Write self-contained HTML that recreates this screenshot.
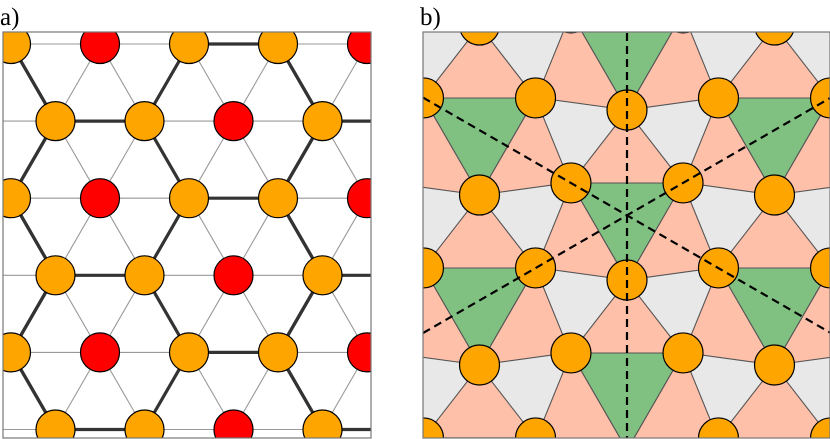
<!DOCTYPE html>
<html><head><meta charset="utf-8">
<style>
html,body{margin:0;padding:0;background:#fff;width:830px;height:439px;overflow:hidden}
svg{display:block}
</style></head>
<body>
<svg id="s" width="830" height="439" xmlns="http://www.w3.org/2000/svg">
<defs>
<clipPath id="ca"><rect x="3" y="32" width="368" height="406"/></clipPath>
<clipPath id="cb"><rect x="423" y="32" width="407" height="406"/></clipPath>
</defs>
<text x="0" y="25" font-family="Liberation Serif, serif" font-size="25">a)</text>
<text x="420" y="25" font-family="Liberation Serif, serif" font-size="25">b)</text>
<g id="ga" clip-path="url(#ca)"></g>
<rect x="3" y="32" width="368" height="406" fill="none" stroke="#777" stroke-width="1.2"/>
<g id="gb" clip-path="url(#cb)"></g>
<rect x="423" y="32" width="407" height="406" fill="none" stroke="#777" stroke-width="1.2"/>
</svg>
<script>
var NS="http://www.w3.org/2000/svg";
function el(p,t,a){var e=document.createElementNS(NS,t);for(var k in a)e.setAttribute(k,a[k]);p.appendChild(e);return e;}
var ga=document.getElementById('ga');
var dx=89, dy=77.1, x0=11, y0=44;
function P(r,c){return [x0+44.5*r+dx*c, y0+dy*r];}
var thin=el(ga,'g',{stroke:'#999','stroke-width':1.1});
for(var r=-2;r<8;r++)for(var c=-8;c<8;c++){
 var p=P(r,c),q1=P(r,c+1),q2=P(r+1,c),q3=P(r+1,c-1);
 [q1,q2,q3].forEach(function(q){el(thin,'line',{x1:p[0],y1:p[1],x2:q[0],y2:q[1]});});
}
var thick=el(ga,'g',{stroke:'#333','stroke-width':3.2});
function L(a,b,c,d){el(thick,'line',{x1:a,y1:b,x2:c,y2:d});}
for(var k=-1;k<4;k++){
 var ye=44+2*dy*k, yo=ye+dy, yn=ye+2*dy;
 for(var s=-1;s<=1;s++){
  var o=267*s;
  L(189+o,ye,278+o,ye);
  L(11+o,ye,55.5+o,yo);L(189+o,ye,144.5+o,yo);L(278+o,ye,322.5+o,yo);
  L(55.5+o,yo,144.5+o,yo);
  L(55.5+o,yo,11+o,yn);L(144.5+o,yo,189+o,yn);L(322.5+o,yo,278+o,yn);
 }
}
for(var r=-1;r<7;r++)for(var c=-6;c<8;c++){
 var p=P(r,c); if(p[0]<-30||p[0]>410)continue;
 var red=(((c+2*r)%3)+3)%3==1;
 el(ga,'circle',{cx:p[0],cy:p[1],r:19.5,fill:red?'#ff0000':'#ffa500',stroke:'#000','stroke-width':1.2});
}
var gb=document.getElementById('gb');
el(gb,'rect',{x:423,y:32,width:407,height:406,fill:'#e8e8e8'});
var cents=[];
for(var i=-3;i<=3;i++)for(var j=-4;j<=4;j++){
 var cx=627+147.5*i, cy=215.3+170*j+85*i;
 if(cx<300||cx>960||cy<-150||cy>600)continue;
 cents.push([cx,cy]);
}
var R=64.7, D=104.5;
function pt(c,ang,d){var a=ang*Math.PI/180;return [c[0]+d*Math.cos(a),c[1]+d*Math.sin(a)];}
function poly(g,pts,fill){el(g,'polygon',{points:pts.map(function(p){return p[0].toFixed(1)+','+p[1].toFixed(1)}).join(' '),fill:fill,stroke:'#555','stroke-width':1.1,'stroke-linejoin':'round'});}
var nodes=[];
cents.forEach(function(c){
 var tl=pt(c,-150,R),tr=pt(c,-30,R),b=pt(c,90,R);
 var at=pt(c,-90,D),ar=pt(c,30,D),al=pt(c,150,D);
 poly(gb,[tl,tr,at],'#ffc0aa');
 poly(gb,[tr,b,ar],'#ffc0aa');
 poly(gb,[b,tl,al],'#ffc0aa');
 nodes.push(tl,tr,b);
});
cents.forEach(function(c){
 poly(gb,[pt(c,-150,R),pt(c,-30,R),pt(c,90,R)],'#80c080');
});
nodes.forEach(function(p){
 if(p[1]>445||p[1]<5||p[0]<400||p[0]>850)return;
 el(gb,'circle',{cx:p[0],cy:p[1],r:20,fill:'#ffa500',stroke:'#000','stroke-width':1.2});
});
var dash={stroke:'#000','stroke-width':2.2,'stroke-dasharray':'8,5',fill:'none'};
var t=Math.tan(Math.PI/6);
function DL(a,b,c,d){var o={x1:a,y1:b,x2:c,y2:d};for(var k in dash)o[k]=dash[k];el(gb,'line',o);}
DL(627,20,627,445);
DL(423,215.3-204*t,830,215.3+203*t);
DL(423,215.3+204*t,830,215.3-203*t);
</script>
</body></html>
